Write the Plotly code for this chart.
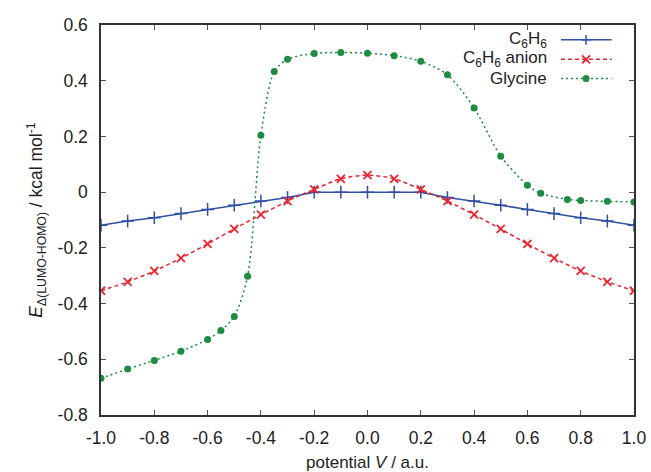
import plotly.graph_objects as go

# ---------------- data ----------------
v_benzene = [-1.0, -0.9, -0.8, -0.7, -0.6, -0.5, -0.4, -0.3, -0.2, -0.1, 0.0,
             0.1, 0.2, 0.3, 0.4, 0.5, 0.6, 0.7, 0.8, 0.9, 1.0]
e_benzene = [-0.119, -0.104, -0.092, -0.077, -0.062, -0.047, -0.032, -0.019, 0.0, 0.0, 0.0,
             0.0, 0.0, -0.019, -0.032, -0.047, -0.062, -0.077, -0.092, -0.104, -0.119]

v_anion = [-1.0, -0.9, -0.8, -0.7, -0.6, -0.5, -0.4, -0.3, -0.2, -0.1, 0.0,
           0.1, 0.2, 0.3, 0.4, 0.5, 0.6, 0.7, 0.8, 0.9, 1.0]
e_anion = [-0.354, -0.322, -0.283, -0.237, -0.186, -0.132, -0.081, -0.032, 0.010, 0.048, 0.061,
           0.048, 0.010, -0.032, -0.081, -0.132, -0.186, -0.237, -0.283, -0.322, -0.354]

v_glycine = [-1.0, -0.9, -0.8, -0.7, -0.6, -0.55, -0.5, -0.45, -0.4, -0.35, -0.3,
             -0.2, -0.1, 0.0, 0.1, 0.2, 0.3, 0.4, 0.5, 0.6, 0.65, 0.75, 0.8, 0.9, 1.0]
e_glycine = [-0.668, -0.635, -0.604, -0.571, -0.529, -0.497, -0.446, -0.302, 0.204, 0.433, 0.477,
             0.498, 0.501, 0.499, 0.490, 0.470, 0.421, 0.302, 0.129, 0.025, -0.004, -0.026, -0.030, -0.033, -0.035]

series_names = ["C<sub>6</sub>H<sub>6</sub>", "C<sub>6</sub>H<sub>6</sub> anion", "Glycine"]

x_tickvals = [-1.0, -0.8, -0.6, -0.4, -0.2, 0.0, 0.2, 0.4, 0.6, 0.8, 1.0]
x_ticktext = ["-1.0", "-0.8", "-0.6", "-0.4", "-0.2", "0.0", "0.2", "0.4", "0.6", "0.8", "1.0"]
y_tickvals = [-0.8, -0.6, -0.4, -0.2, 0.0, 0.2, 0.4, 0.6]
y_ticktext = ["-0.8", "-0.6", "-0.4", "-0.2", "0", "0.2", "0.4", "0.6"]

# ---------------- styles ----------------
BLUE = "#2f4fa2"
RED = "#ea2530"
GREEN = "#1c8c42"
TEXT = "#222222"
FONT = "Liberation Sans, Arial, sans-serif"

styles = [
    dict(line=dict(color=BLUE, width=1.5, dash="solid", shape="linear"),
         marker=dict(symbol="cross-thin", size=9, line=dict(color=BLUE, width=1.5))),
    dict(line=dict(color=RED, width=1.5, dash="4px,3px", shape="spline", smoothing=0.8),
         marker=dict(symbol="x-thin", size=8, line=dict(color=RED, width=1.8))),
    dict(line=dict(color=GREEN, width=1.5, dash="2px,3px", shape="spline", smoothing=0.8),
         marker=dict(symbol="circle", size=7, color=GREEN)),
]

fig = go.Figure()
for (xs, ys), name, st in zip([(v_benzene, e_benzene), (v_anion, e_anion), (v_glycine, e_glycine)],
                              series_names, styles):
    fig.add_trace(go.Scatter(x=xs, y=ys, mode="lines+markers", name=name,
                             line=st["line"], marker=st["marker"], showlegend=False))

# ---------------- gnuplot-style key (text left, sample right) ----------------
key_rows = [0.962, 0.912, 0.863]     # fractions of plot height
key_line_x = [0.863, 0.958]         # fractions of plot width
key_marker_x = 0.910
key_text_x = 0.839
for name, st, ky in zip(series_names, styles, key_rows):
    ln = dict(st["line"])
    ln["shape"] = "linear"
    fig.add_trace(go.Scatter(x=key_line_x, y=[ky, ky], mode="lines", line=ln,
                             xaxis="x2", yaxis="y2", showlegend=False, hoverinfo="skip"))
    mk = dict(st["marker"])
    if mk["symbol"] == "cross-thin":
        mk["size"] = 7
    fig.add_trace(go.Scatter(x=[key_marker_x], y=[ky], mode="markers", marker=mk,
                             xaxis="x2", yaxis="y2", showlegend=False, hoverinfo="skip"))
    fig.add_annotation(x=key_text_x, y=ky, xref="x2", yref="y2", text=name, showarrow=False,
                       xanchor="right", yanchor="middle", borderpad=0,
                       font=dict(family=FONT, size=17, color=TEXT))

axis_common = dict(showline=True, linecolor="#333", linewidth=1.5, mirror="ticks",
                   ticks="inside", ticklen=5, tickwidth=1, tickcolor="#555",
                   showgrid=False, zeroline=False, automargin=False,
                   tickfont=dict(family=FONT, size=17.5, color=TEXT))

fig.update_layout(
    width=651, height=472,
    margin=dict(l=101, r=17, t=25, b=57),
    paper_bgcolor="white", plot_bgcolor="white",
    font=dict(family=FONT, size=17, color=TEXT),
    xaxis=dict(range=[-1.0, 1.0], tickvals=x_tickvals, ticktext=x_ticktext,
               ticklabelstandoff=6,
               title=dict(text="potential <i>V</i> / a.u.", standoff=10,
                          font=dict(family=FONT, size=17, color=TEXT)),
               **axis_common),
    yaxis=dict(range=[-0.8, 0.6], tickvals=y_tickvals, ticktext=y_ticktext,
               ticklabelstandoff=8,
               title=dict(text="<i>E</i><sub>Δ(LUMO-HOMO)</sub> / kcal mol<sup>-1</sup>",
                          standoff=10, font=dict(family=FONT, size=17.5, color=TEXT)),
               **axis_common),
    xaxis2=dict(overlaying="x", range=[0, 1], visible=False, fixedrange=True),
    yaxis2=dict(overlaying="y", range=[0, 1], visible=False, fixedrange=True),
)

fig.write_html("out.html", config={"displayModeBar": False},
               post_script="document.body.style.margin='0';document.body.style.overflow='hidden';")
